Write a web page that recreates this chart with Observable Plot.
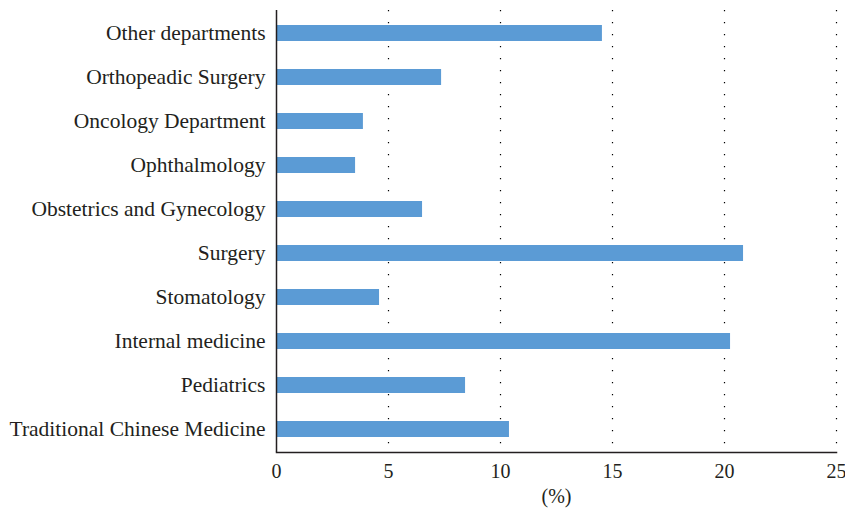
<!DOCTYPE html>
<html>
<head>
<meta charset="utf-8">
<script src="https://cdn.jsdelivr.net/npm/d3@7"></script>
<script src="https://cdn.jsdelivr.net/npm/@observablehq/plot@0.6"></script>
<style>
  html, body { margin: 0; padding: 0; background: #fff; }
  #chart svg { font-family: "Liberation Serif", "DejaVu Serif", serif; }
</style>
</head>
<body>
<div id="chart"></div>
<script>
const departments = [
  "Other departments",
  "Orthopeadic Surgery",
  "Oncology Department",
  "Ophthalmology",
  "Obstetrics and Gynecology",
  "Surgery",
  "Stomatology",
  "Internal medicine",
  "Pediatrics",
  "Traditional Chinese Medicine"
];
const percentages = [14.55, 7.37, 3.88, 3.53, 6.52, 20.85, 4.6, 20.27, 8.44, 10.4];
const xTicks = [0, 5, 10, 15, 20, 25];
const gridTicks = [5, 10, 15, 20, 25];

const data = departments.map((d, i) => ({department: d, value: percentages[i]}));

const chart = Plot.plot({
  width: 845,
  height: 511,
  marginLeft: 276,
  marginRight: 9,
  marginTop: 10,
  marginBottom: 59,
  style: {fontFamily: "Liberation Serif, DejaVu Serif, serif", fontSize: "20px", color: "#231f20", background: "#fff"},
  x: {domain: [0, 25]},
  y: {domain: departments, paddingInner: 0.64, paddingOuter: 0.32},
  marks: [
    Plot.gridX(gridTicks, {stroke: "#000", strokeOpacity: 1, strokeWidth: 1.2, strokeDasharray: "1.2,10.8"}),
    Plot.barX(data, {x: "value", y: "department", fill: "#5b9bd5"}),
    Plot.ruleX([0], {stroke: "#231f20", strokeWidth: 1.5}),
    Plot.frame({anchor: "bottom", stroke: "#231f20", strokeWidth: 1.5}),
    Plot.axisY({tickSize: 0, tickPadding: 11, label: null, fontSize: 21.5}),
    Plot.axisX({ticks: xTicks, tickSize: 0, tickPadding: 11, fontSize: 20, label: "(%)", labelAnchor: "center", labelArrow: "none", labelOffset: 50, tickFormat: d => String(d)})
  ]
});
document.getElementById("chart").appendChild(chart);
</script>
</body>
</html>
